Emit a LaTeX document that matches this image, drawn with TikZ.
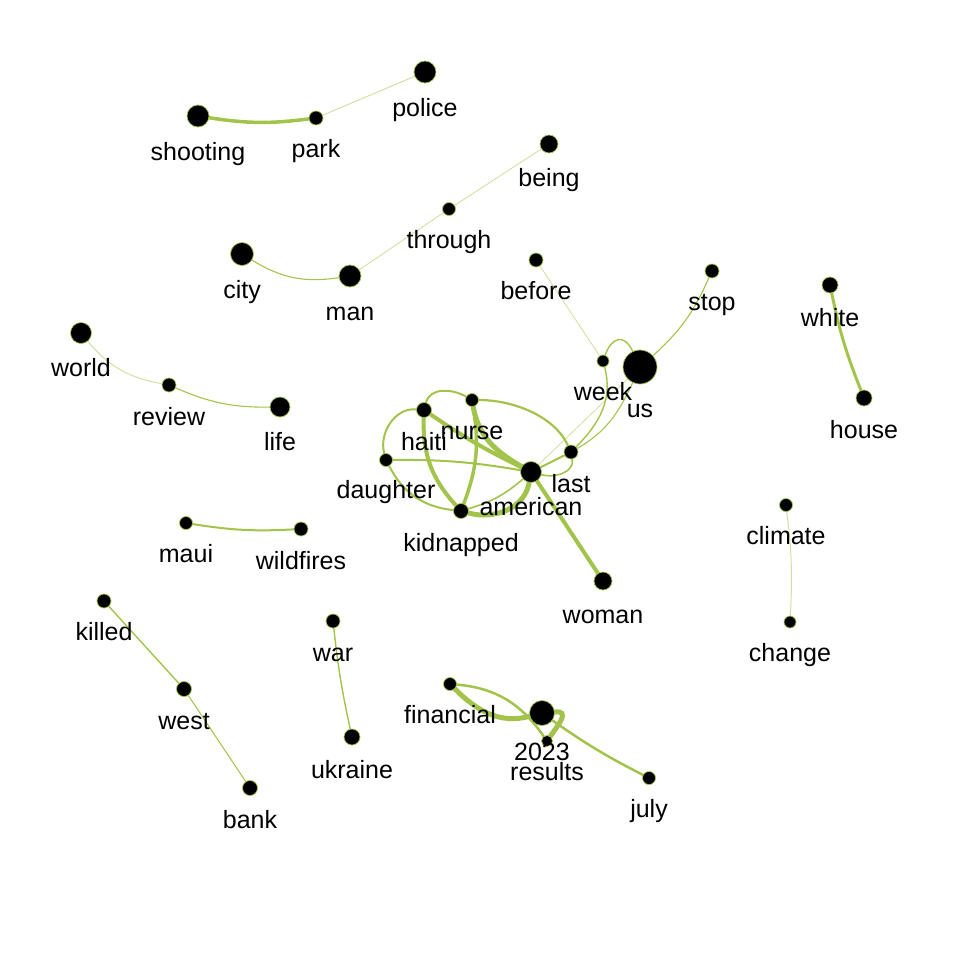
\documentclass[tikz,border=0pt]{standalone}
\usepackage{fontspec}
\setmainfont{Liberation Sans}
\usetikzlibrary{backgrounds}
\definecolor{eg}{HTML}{A3C44A}
\tikzset{
  x=1pt,y=1pt,
  vtx/.style={circle,fill=black,draw=eg,line width=0.7pt,inner sep=0pt,minimum size=#1},
  lab/.style={anchor=mid,yshift=-6pt,inner sep=0pt,text=black,font=\fontsize{25}{30}\selectfont},
  edg/.style={draw=eg,line width=#1,line cap=round},
  lite/.style={draw=eg,draw opacity=0.5,line width=#1,line cap=round},
}
\begin{document}
\begin{tikzpicture}
\useasboundingbox (0,0) rectangle (972,-972);
% vertices
\node[vtx=22pt] (police) at (425,-72) {};
\node[vtx=14pt] (park) at (316,-118) {};
\node[vtx=22pt] (shooting) at (198,-116) {};
\node[vtx=18pt] (being) at (549,-144) {};
\node[vtx=13pt] (through) at (449,-209) {};
\node[vtx=23pt] (city) at (242,-254) {};
\node[vtx=22pt] (man) at (350,-276) {};
\node[vtx=14pt] (before) at (536,-260) {};
\node[vtx=14pt] (stop) at (712,-271) {};
\node[vtx=16pt] (white) at (830,-285) {};
\node[vtx=16pt] (house) at (864,-398) {};
\node[vtx=21pt] (world) at (81,-333) {};
\node[vtx=14pt] (review) at (169,-385) {};
\node[vtx=20pt] (life) at (280,-407) {};
\node[vtx=12pt] (week) at (603,-361) {};
\node[vtx=34pt] (us) at (640,-367) {};
\node[vtx=15pt] (haiti) at (424,-410) {};
\node[vtx=13pt] (nurse) at (472,-400) {};
\node[vtx=14pt] (last) at (571,-452) {};
\node[vtx=13pt] (daughter) at (386,-460) {};
\node[vtx=21pt] (american) at (531,-472) {};
\node[vtx=15pt] (kidnapped) at (461,-511) {};
\node[vtx=13pt] (climate) at (786,-505) {};
\node[vtx=13pt] (maui) at (186,-523) {};
\node[vtx=14pt] (wildfires) at (301,-529) {};
\node[vtx=18pt] (woman) at (603,-581) {};
\node[vtx=14pt] (killed) at (104,-601) {};
\node[vtx=12pt] (change) at (790,-622) {};
\node[vtx=14pt] (war) at (333,-621) {};
\node[vtx=15pt] (west) at (184,-689) {};
\node[vtx=13pt] (financial) at (450,-684) {};
\node[vtx=25pt] (y2023) at (542,-713) {};
\node[vtx=11pt] (results) at (547,-741) {};
\node[vtx=16pt] (ukraine) at (352,-737) {};
\node[vtx=13pt] (july) at (649,-778) {};
\node[vtx=15pt] (bank) at (250,-788) {};
% edges
\begin{pgfonlayer}{background}
\draw[edg=3.5pt] (shooting) to[bend right=8] (park);
\draw[lite=1pt] (park) to (police);
\draw[lite=0.9pt] (being) to (through);
\draw[lite=0.9pt] (through) to (man);
\draw[edg=1.1pt] (city) to[bend right=20] (man);
\draw[lite=1pt] (world) to[bend right=20] (review);
\draw[edg=1.1pt] (review) to[bend right=12] (life);
\draw[edg=2pt] (maui) to[bend right=6] (wildfires);
\draw[edg=1.4pt] (killed) to (west);
\draw[edg=1pt] (west) to (bank);
\draw[edg=1.4pt] (war) to[bend right=3] (ukraine);
\draw[edg=3pt] (white) to[bend right=5] (house);
\draw[lite=1pt] (climate) to[bend left=5] (change);
\draw[lite=0.9pt] (before) to (week);
\draw[edg=1.1pt] (us) to[bend right=12] (stop);
\draw[edg=1.4pt] (week) to[out=70,in=115,looseness=1.8] (us);
\draw[edg=1.4pt] (week) to[out=-75,in=45] (last);
\draw[edg=1.1pt] (us) to[out=-115,in=30] (last);
\draw[lite=0.8pt] (american) to (us);
\draw[edg=2.2pt] (nurse) to[out=0,in=115,looseness=0.85] (last);
\draw[edg=1.6pt] (last) to[out=-80,in=-15] (american);
\draw[edg=2pt] (last) to (american);
\draw[edg=2pt] (haiti) to[out=75,in=150] (nurse);
\draw[edg=4pt] (haiti) to[bend right=4] (american);
\draw[edg=5pt] (nurse) to[out=-80,in=150] (american);
\draw[edg=3.5pt] (nurse) to[bend left=15] (kidnapped);
\draw[edg=4pt] (haiti) to[bend right=22] (kidnapped);
\draw[edg=2pt] (daughter) to[out=105,in=175] (haiti);
\draw[edg=2pt] (daughter) to[bend left=5] (american);
\draw[edg=2pt] (daughter) to[bend right=28] (kidnapped);
\draw[edg=5pt] (kidnapped) to[out=-15,in=-100] (american);
\draw[edg=1.6pt] (kidnapped) to[bend right=12] (american);
\draw[edg=4pt] (american) to (woman);
\draw[edg=5pt] (financial) to[out=-45,in=195] (y2023);
\draw[edg=2.5pt] (financial) to[out=-5,in=125] (results);
\draw[edg=5pt] (y2023) to[out=5,in=55,looseness=1.6] (results);
\draw[edg=2.5pt] (y2023) to[bend right=4] (july);
\end{pgfonlayer}
% labels
\node[lab] (police-l) at (425,-108) {police};
\node[lab] (park-l) at (316,-149) {park};
\node[lab] (shooting-l) at (198,-152) {shooting};
\node[lab] (being-l) at (549,-178) {being};
\node[lab] (through-l) at (449,-240) {through};
\node[lab] (city-l) at (242,-290) {city};
\node[lab] (man-l) at (350,-312) {man};
\node[lab] (before-l) at (536,-291) {before};
\node[lab] (stop-l) at (712,-302) {stop};
\node[lab] (white-l) at (830,-318) {white};
\node[lab] (house-l) at (864,-430) {house};
\node[lab] (world-l) at (81,-368) {world};
\node[lab] (review-l) at (169,-417) {review};
\node[lab] (life-l) at (280,-442) {life};
\node[lab] (week-l) at (603,-392) {week};
\node[lab] (us-l) at (640,-409) {us};
\node[lab] (haiti-l) at (424,-442) {haiti};
\node[lab] (nurse-l) at (472,-431) {nurse};
\node[lab] (last-l) at (571,-484) {last};
\node[lab] (daughter-l) at (386,-490) {daughter};
\node[lab] (american-l) at (531,-507) {american};
\node[lab] (kidnapped-l) at (461,-543) {kidnapped};
\node[lab] (climate-l) at (786,-536) {climate};
\node[lab] (maui-l) at (186,-554) {maui};
\node[lab] (wildfires-l) at (301,-561) {wildfires};
\node[lab] (woman-l) at (603,-615) {woman};
\node[lab] (killed-l) at (104,-632) {killed};
\node[lab] (change-l) at (790,-653) {change};
\node[lab] (war-l) at (333,-653) {war};
\node[lab] (west-l) at (184,-721) {west};
\node[lab] (financial-l) at (450,-715) {financial};
\node[lab] (y2023-l) at (542,-752) {2023};
\node[lab] (results-l) at (547,-772) {results};
\node[lab] (ukraine-l) at (352,-770) {ukraine};
\node[lab] (july-l) at (649,-809) {july};
\node[lab] (bank-l) at (250,-820) {bank};
\end{tikzpicture}
\end{document}
